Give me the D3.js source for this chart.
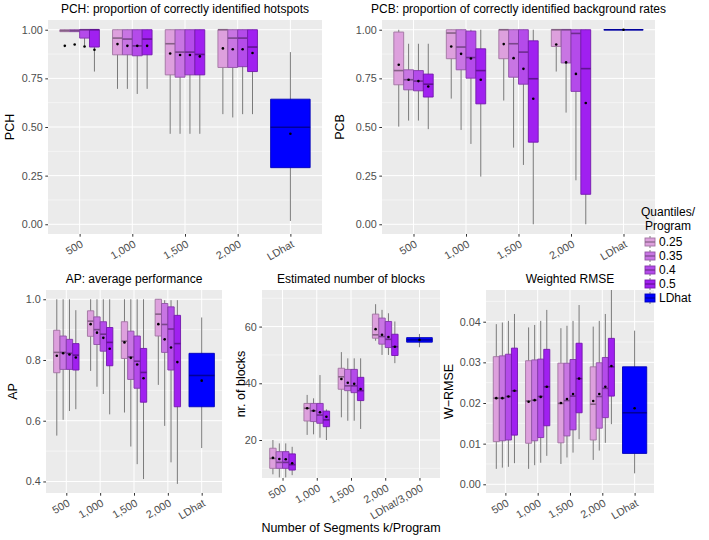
<!DOCTYPE html>
<html>
<head>
<meta charset="utf-8">
<script src="https://cdn.jsdelivr.net/npm/d3@7"></script>
<style>
	body { margin: 0; background: #fff; }
	svg { font-family: "Liberation Sans", Arial, sans-serif; }
</style>
</head>
<body>
<div id="wrapper"></div>
<script>
/////////////////////////////////////////////////
// data /////////////////////////////////////////
/////////////////////////////////////////////////

const segments = ["500", "1,000", "1,500", "2,000"];
const quantiles = ["0.25", "0.35", "0.4", "0.5"];
const program = "LDhat";
const quantileColors = ["#DDA0DD", "#C875E3", "#B44BEA", "#A020F0"];
const ldhatColor = "#0000FF";

// each row: [lower whisker, q1, median, q3, upper whisker, mean]
// rows ordered segment by segment, quantiles 0.25 .. 0.5
const pchBoxes = [
	[0.99, 0.99, 0.995, 1.0, 1.0, 0.917], [0.99, 0.99, 0.995, 1.0, 1.0, 0.924],
	[0.917, 0.957, 1.0, 1.0, 1.0, 0.914], [0.785, 0.911, 1.0, 1.0, 1.0, 0.897],
	[0.696, 0.871, 0.957, 1.0, 1.0, 0.926], [0.696, 0.871, 0.952, 1.0, 1.0, 0.917],
	[0.67, 0.866, 0.917, 1.0, 1.0, 0.917], [0.696, 0.871, 0.952, 1.0, 1.0, 0.917],
	[0.465, 0.768, 0.928, 1.0, 1.0, 0.878], [0.465, 0.756, 0.885, 1.0, 1.0, 0.87],
	[0.465, 0.768, 0.885, 1.0, 1.0, 0.87], [0.465, 0.768, 0.873, 1.0, 1.0, 0.863],
	[0.566, 0.806, 1.0, 1.0, 1.0, 0.904], [0.549, 0.806, 0.957, 1.0, 1.0, 0.90],
	[0.566, 0.81, 0.957, 1.0, 1.0, 0.90], [0.566, 0.785, 0.911, 1.0, 1.0, 0.88]
];
const pchLDhat = [0.017, 0.291, 0.499, 0.643, 0.885, 0.465];

const pcbBoxes = [
	[0.502, 0.717, 0.79, 0.988, 1.0, 0.82], [0.533, 0.691, 0.743, 0.794, 0.928, 0.743],
	[0.533, 0.686, 0.736, 0.79, 0.928, 0.736], [0.489, 0.654, 0.72, 0.772, 0.928, 0.708],
	[0.646, 0.851, 0.983, 1.0, 1.0, 0.914], [0.485, 0.794, 0.911, 1.0, 1.0, 0.876],
	[0.413, 0.751, 0.857, 0.993, 1.0, 0.852], [0.245, 0.619, 0.79, 0.902, 1.0, 0.743],
	[0.636, 0.851, 1.0, 1.0, 1.0, 0.926], [0.394, 0.756, 0.928, 1.0, 1.0, 0.854],
	[0.305, 0.72, 0.885, 1.0, 1.0, 0.799], [0.0, 0.422, 0.748, 0.943, 1.0, 0.645],
	[0.785, 0.914, 1.0, 1.0, 1.0, 0.924], [0.574, 0.829, 1.0, 1.0, 1.0, 0.832],
	[0.226, 0.683, 0.981, 1.0, 1.0, 0.773], [0.0, 0.154, 0.8, 1.0, 1.0, 0.623]
];
const pcbLDhat = [1.0, 1.0, 1.0, 1.0, 1.0, 1.0];

const apBoxes = [
	[0.551, 0.758, 0.825, 0.898, 1.0, 0.814], [0.603, 0.769, 0.825, 0.879, 1.0, 0.822],
	[0.632, 0.769, 0.822, 0.868, 1.0, 0.818], [0.638, 0.767, 0.816, 0.854, 0.964, 0.808],
	[0.764, 0.878, 0.928, 0.962, 1.0, 0.918], [0.712, 0.851, 0.9, 0.942, 1.0, 0.89],
	[0.688, 0.829, 0.885, 0.926, 1.0, 0.873], [0.621, 0.781, 0.858, 0.907, 1.0, 0.837],
	[0.627, 0.805, 0.862, 0.926, 1.0, 0.858], [0.515, 0.736, 0.81, 0.895, 1.0, 0.807],
	[0.457, 0.707, 0.796, 0.879, 1.0, 0.785], [0.408, 0.661, 0.759, 0.838, 1.0, 0.74],
	[0.718, 0.879, 0.951, 1.0, 1.0, 0.918], [0.583, 0.825, 0.917, 0.986, 0.997, 0.868],
	[0.463, 0.767, 0.902, 0.975, 0.997, 0.841], [0.392, 0.646, 0.854, 0.947, 0.997, 0.793]
];
const apLDhat = [0.51, 0.646, 0.749, 0.822, 0.94, 0.732];

const blockBoxes = [
	[7.9, 10.0, 13.5, 17.1, 20, 13.7], [6.8, 10.0, 12.1, 15.9, 18.8, 13.3],
	[6.8, 10.0, 12.1, 15.9, 18.8, 13.2], [7.6, 9.4, 11.3, 15.1, 17.6, 11.8],
	[21.8, 26.7, 31.2, 32.9, 35.9, 31.2], [22, 26.5, 30.3, 32.9, 34.7, 30.3],
	[20.8, 25.9, 28.8, 32.9, 42.9, 29.8], [20, 24.7, 27.1, 30.2, 30.8, 28.2],
	[28, 37.9, 42.3, 45.3, 51, 41.5], [26.8, 37.4, 39.1, 44.9, 48.8, 40.2],
	[26.8, 36.7, 39.1, 44.9, 48.8, 39.8], [23.9, 33.9, 37.4, 42.1, 48.8, 38],
	[55, 55.9, 57.1, 64.4, 67.9, 59.1], [50, 53.8, 56.5, 63, 65.9, 57.1],
	[50, 52.6, 55.5, 61.8, 64.7, 56.3], [47.1, 49.8, 52.9, 57.3, 61.8, 52.9]
];
const blockLDhat = [52.7, 54.5, 55.3, 56.1, 57.4, 55.3];

const rmseBoxes = [
	[0.0038, 0.0105, 0.0212, 0.0314, 0.0394, 0.0212], [0.0041, 0.0107, 0.0212, 0.0316, 0.0398, 0.0212],
	[0.0043, 0.0109, 0.0216, 0.032, 0.0402, 0.0216], [0.0052, 0.0121, 0.023, 0.0335, 0.0419, 0.023],
	[0.0038, 0.0101, 0.0205, 0.0304, 0.0386, 0.0203], [0.0047, 0.0107, 0.0207, 0.0306, 0.0392, 0.0207],
	[0.0053, 0.0115, 0.0216, 0.0308, 0.0402, 0.0215], [0.007, 0.0144, 0.024, 0.0332, 0.0429, 0.024],
	[0.005, 0.0102, 0.0199, 0.0298, 0.0384, 0.02], [0.0066, 0.0119, 0.0206, 0.0298, 0.039, 0.021],
	[0.0078, 0.0134, 0.0217, 0.0307, 0.0402, 0.0222], [0.0111, 0.0176, 0.026, 0.0347, 0.0441, 0.026],
	[0.006, 0.0109, 0.0197, 0.0289, 0.0388, 0.0205], [0.0083, 0.0138, 0.0216, 0.0299, 0.0402, 0.0222],
	[0.0102, 0.0164, 0.0236, 0.0312, 0.0419, 0.024], [0.0148, 0.0217, 0.0289, 0.0359, 0.048, 0.0291]
];
const rmseLDhat = [0.0027, 0.0076, 0.0176, 0.0289, 0.0378, 0.0187];

// tick values
const propTicks = [0, 0.25, 0.5, 0.75, 1];
const apTicks = [0.4, 0.6, 0.8, 1.0];
const blockTicks = [20, 40, 60];
const rmseTicks = [0, 0.01, 0.02, 0.03, 0.04];
const xLabels = ["500", "1,000", "1,500", "2,000", "LDhat"];
const xLabelsBlocks = ["500", "1,000", "1,500", "2,000", "LDhat/3,000"];

/////////////////////////////////////////////////
// panel layout /////////////////////////////////
/////////////////////////////////////////////////

const panels = [
	{ title: "PCH: proportion of correctly identified hotspots", ylab: "PCH", boxes: pchBoxes, ld: pchLDhat,
		ticks: propTicks, fmt: ".2f", minor: [0.125, 0.375, 0.625, 0.875], domain: [-0.05, 1.05],
		x0: 48, x1: 322, y0: 20, y1: 234, ylabX: 10, xlabels: xLabels },
	{ title: "PCB: proportion of correctly identified background rates", ylab: "PCB", boxes: pcbBoxes, ld: pcbLDhat,
		ticks: propTicks, fmt: ".2f", minor: [0.125, 0.375, 0.625, 0.875], domain: [-0.05, 1.05],
		x0: 382, x1: 655, y0: 20, y1: 234, ylabX: 340, xlabels: xLabels },
	{ title: "AP: average performance", ylab: "AP", boxes: apBoxes, ld: apLDhat,
		ticks: apTicks, fmt: ".1f", minor: [0.5, 0.7, 0.9], domain: [0.362, 1.0305],
		x0: 46, x1: 222, y0: 290, y1: 493, ylabX: 13, xlabels: xLabels },
	{ title: "Estimated number of blocks", ylab: "nr. of blocks", boxes: blockBoxes, ld: blockLDhat,
		ticks: blockTicks, fmt: "d", minor: [10, 30, 50, 70], domain: [6.6, 72.9],
		x0: 262, x1: 440, y0: 290, y1: 478, ylabX: 241, xlabels: xLabelsBlocks },
	{ title: "Weighted RMSE", ylab: "W\u2212RMSE", boxes: rmseBoxes, ld: rmseLDhat,
		ticks: rmseTicks, fmt: ".2f", minor: [0.005, 0.015, 0.025, 0.035, 0.045], domain: [-0.00214, 0.0478],
		x0: 486, x1: 654, y0: 290, y1: 493, ylabX: 449, xlabels: xLabels }
];

const width = 709;
const height = 540;

const svg = d3.select("#wrapper").append("svg")
	.attr("width", width)
	.attr("height", height);

const colorScale = d3.scaleOrdinal()
	.domain(quantiles.concat([program]))
	.range(quantileColors.concat([ldhatColor]));

const outline = (c) => d3.color(c).darker(0.9).formatHex();

/////////////////////////////////////////////////
// draw panels //////////////////////////////////
/////////////////////////////////////////////////

const drawPanel = (p, idx) => {
	const g = svg.append("g");
	const cats = segments.concat([program]);

	const xScale = d3.scalePoint()
		.domain(cats)
		.range([p.x0, p.x1])
		.padding(0.6);
	const step = xScale.step();

	const dodge = d3.scaleBand()
		.domain(quantiles)
		.range([-0.375 * step, 0.375 * step]);

	const yScale = d3.scaleLinear()
		.domain(p.domain)
		.range([p.y1, p.y0]);

	// background + grid
	g.append("rect")
		.attr("x", p.x0).attr("y", p.y0)
		.attr("width", p.x1 - p.x0).attr("height", p.y1 - p.y0)
		.attr("fill", "#EBEBEB");

	g.selectAll(".minor")
		.data(p.minor.filter((v) => v >= p.domain[0] && v <= p.domain[1]))
		.join("line")
		.attr("x1", p.x0).attr("x2", p.x1)
		.attr("y1", (d) => yScale(d)).attr("y2", (d) => yScale(d))
		.attr("stroke", "#fff").attr("stroke-width", 0.5);

	g.selectAll(".major")
		.data(p.ticks)
		.join("line")
		.attr("x1", p.x0).attr("x2", p.x1)
		.attr("y1", (d) => yScale(d)).attr("y2", (d) => yScale(d))
		.attr("stroke", "#fff").attr("stroke-width", 1);

	g.selectAll(".vmajor")
		.data(cats)
		.join("line")
		.attr("x1", (d) => xScale(d)).attr("x2", (d) => xScale(d))
		.attr("y1", p.y0).attr("y2", p.y1)
		.attr("stroke", "#fff").attr("stroke-width", 1);

	// boxes
	const rows = p.boxes.map((r, i) => ({
		seg: segments[Math.floor(i / 4)],
		q: quantiles[i % 4],
		v: r
	}));
	rows.push({ seg: program, q: program, v: p.ld });

	const clipId = "clip" + idx;
	g.append("clipPath").attr("id", clipId)
		.append("rect")
		.attr("x", p.x0).attr("y", p.y0)
		.attr("width", p.x1 - p.x0).attr("height", p.y1 - p.y0);

	const plot = g.append("g").attr("clip-path", `url(#${clipId})`);

	const boxX = (d) => d.q === program ? xScale(d.seg) - 0.375 * step : xScale(d.seg) + dodge(d.q);
	const boxW = (d) => d.q === program ? 0.75 * step : dodge.bandwidth();

	const box = plot.selectAll(".box")
		.data(rows)
		.join("g");

	box.append("line")
		.attr("x1", (d) => boxX(d) + boxW(d) / 2)
		.attr("x2", (d) => boxX(d) + boxW(d) / 2)
		.attr("y1", (d) => yScale(d.v[0]))
		.attr("y2", (d) => yScale(d.v[4]))
		.attr("stroke", "#7a7a7a")
		.attr("stroke-width", 1);

	box.append("path")
		.attr("d", (d) => {
			const x = boxX(d), w = boxW(d);
			const ya = yScale(d.v[3]), yb = yScale(d.v[1]);
			return `M${x},${ya}H${x + w}V${yb}H${x}Z`;
		})
		.attr("fill", (d) => colorScale(d.q))
		.attr("stroke", (d) => outline(colorScale(d.q)))
		.attr("stroke-width", 0.9);

	box.append("line")
		.attr("x1", (d) => boxX(d))
		.attr("x2", (d) => boxX(d) + boxW(d))
		.attr("y1", (d) => yScale(d.v[2]))
		.attr("y2", (d) => yScale(d.v[2]))
		.attr("stroke", (d) => d3.color(outline(colorScale(d.q))).darker(0.5))
		.attr("stroke-width", 1.6);

	box.append("circle")
		.attr("cx", (d) => boxX(d) + boxW(d) / 2)
		.attr("cy", (d) => yScale(d.v[5]))
		.attr("r", 1.3)
		.attr("fill", "#000");

	// y axis
	const yAxis = g.append("g")
		.attr("transform", `translate(${p.x0},0)`)
		.call(d3.axisLeft(yScale).tickValues(p.ticks).tickFormat(d3.format(p.fmt)).tickSize(2.7).tickPadding(2.5));
	yAxis.select(".domain").remove();
	yAxis.selectAll(".tick line").attr("stroke", "#333");
	yAxis.selectAll(".tick text")
		.attr("fill", "#4D4D4D")
		.style("font-size", "10.8px")
		.style("font-family", "'Liberation Sans', Arial, sans-serif");

	// x axis
	const xAxis = g.append("g")
		.attr("transform", `translate(0,${p.y1})`)
		.call(d3.axisBottom(xScale).tickSize(2.7).tickFormat((d, i) => p.xlabels[i]));
	xAxis.select(".domain").remove();
	xAxis.selectAll(".tick line").attr("stroke", "#333");
	xAxis.selectAll(".tick text")
		.attr("fill", "#4D4D4D")
		.attr("y", 0).attr("dy", "0.72em")
		.attr("transform", "translate(0,5.5) rotate(-30)")
		.attr("text-anchor", "end")
		.style("font-size", "10.8px")
		.style("font-family", "'Liberation Sans', Arial, sans-serif");

	// titles
	g.append("text")
		.attr("x", (p.x0 + p.x1) / 2)
		.attr("y", p.y0 - 7)
		.attr("text-anchor", "middle")
		.style("font-size", "12px")
		.text(p.title);

	g.append("text")
		.attr("transform", `translate(${p.ylabX},${(p.y0 + p.y1) / 2}) rotate(-90)`)
		.attr("text-anchor", "middle")
		.attr("dy", "0.35em")
		.style("font-size", "12.5px")
		.text(p.ylab);
};

panels.forEach(drawPanel);

/////////////////////////////////////////////////
// shared x title ///////////////////////////////
/////////////////////////////////////////////////

svg.append("text")
	.attr("x", 351)
	.attr("y", 532)
	.attr("text-anchor", "middle")
	.style("font-size", "12.5px")
	.text("Number of Segments k/Program");

/////////////////////////////////////////////////
// legend ///////////////////////////////////////
/////////////////////////////////////////////////

const legend = svg.append("g");
const legendItems = quantiles.concat([program]);

legend.selectAll(".ltitle")
	.data(["Quantiles/", "Program"])
	.join("text")
	.attr("x", 668)
	.attr("y", (d, i) => 216 + i * 14)
	.attr("text-anchor", "middle")
	.style("font-size", "12px")
	.text((d) => d);

const legendY = d3.scalePoint().domain(legendItems).range([242, 298]);

const key = legend.selectAll(".key")
	.data(legendItems)
	.join("g")
	.attr("transform", (d) => `translate(645,${legendY(d)})`);

key.append("line")
	.attr("x1", 5).attr("x2", 5)
	.attr("y1", -6).attr("y2", 6)
	.attr("stroke", "#7a7a7a");

key.append("rect")
	.attr("x", 0).attr("y", -4)
	.attr("width", 10).attr("height", 8)
	.attr("fill", (d) => colorScale(d))
	.attr("stroke", (d) => outline(colorScale(d)))
	.attr("stroke-width", 0.9);

key.append("line")
	.attr("x1", 0).attr("x2", 10)
	.attr("y1", 0).attr("y2", 0)
	.attr("stroke", (d) => d3.color(outline(colorScale(d))).darker(0.5))
	.attr("stroke-width", 1.2);

key.append("text")
	.attr("x", 14)
	.attr("y", 0)
	.attr("dy", "0.35em")
	.style("font-size", "12px")
	.text((d) => d);
</script>
</body>
</html>
